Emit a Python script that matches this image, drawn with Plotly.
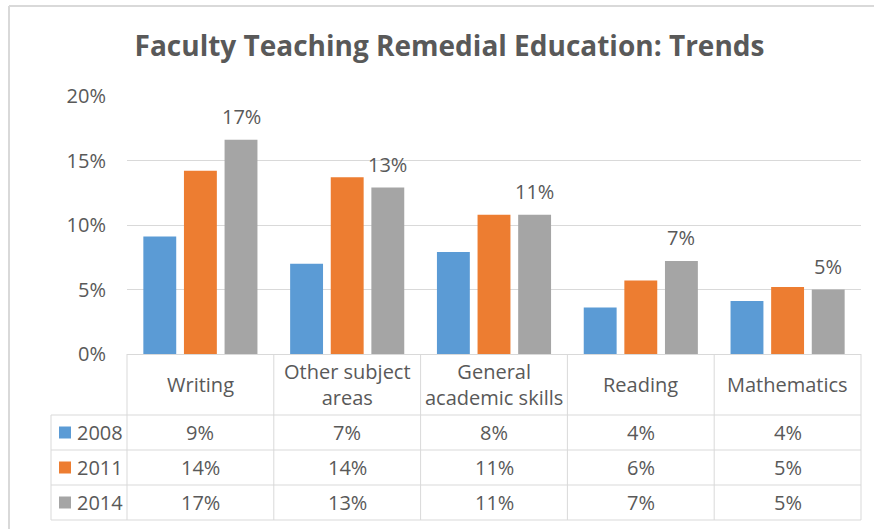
import plotly.graph_objects as go

categories = ["Writing", "Other subject areas", "General academic skills", "Reading", "Mathematics"]
category_labels = ["Writing", "Other subject<br>areas", "General<br>academic skills", "Reading", "Mathematics"]
years = ["2008", "2011", "2014"]
values_2008 = [9.1, 7.0, 7.9, 3.6, 4.1]
values_2011 = [14.2, 13.7, 10.8, 5.7, 5.2]
values_2014 = [16.6, 12.9, 10.8, 7.2, 5.0]
series = [values_2008, values_2011, values_2014]
colors = ["#5B9BD5", "#ED7D31", "#A5A5A5"]
y_ticks = [0, 5, 10, 15, 20]

W, H = 874, 529
L, R, T, B = 127, 861, 96, 354
TXT = "#595959"
GRID = "#d9d9d9"
FONT = "Open Sans"
FS = 20

def px(x):
    return (x - L) / (R - L)

def py(y):
    return (B - y) / (B - T)

fig = go.Figure()
for yr, vals, col in zip(years, series, colors):
    fig.add_trace(go.Bar(x=categories, y=vals, name=yr, marker=dict(color=col, line=dict(width=0)),
                         hoverinfo="x+y"))

shapes = []
annotations = []

# outer chart border (left and top)
shapes.append(dict(type="line", xref="paper", yref="paper", x0=px(9), x1=px(W + 5), y0=py(6), y1=py(6),
                   line=dict(color="#d9d9d9", width=2)))
shapes.append(dict(type="line", xref="paper", yref="paper", x0=px(9), x1=px(9), y0=py(6), y1=py(H + 5),
                   line=dict(color="#d9d9d9", width=2)))

# data table grid
col_w = (R - L) / len(categories)
row_lines = [415, 450, 485, 520]
for yl in row_lines:
    shapes.append(dict(type="line", xref="paper", yref="paper", x0=px(51), x1=px(R), y0=py(yl), y1=py(yl),
                       line=dict(color=GRID, width=1)))
for k in range(len(categories) + 1):
    xv = L + k * col_w
    shapes.append(dict(type="line", xref="paper", yref="paper", x0=px(xv), x1=px(xv), y0=py(B), y1=py(520),
                       line=dict(color=GRID, width=1)))
shapes.append(dict(type="line", xref="paper", yref="paper", x0=px(51), x1=px(51), y0=py(415), y1=py(520),
                   line=dict(color=GRID, width=1)))

# category labels in header row
for cat, lab in zip(categories, category_labels):
    annotations.append(dict(x=cat, xref="x", y=py(384.5), yref="paper", text=lab, showarrow=False,
                            xanchor="center", yanchor="middle", font=dict(size=FS, color=TXT, family=FONT)))

row_centers = [432.5, 467.5, 502.5]
for yr, vals, col, rc in zip(years, series, colors, row_centers):
    shapes.append(dict(type="rect", xref="paper", yref="paper", x0=px(59), x1=px(71), y0=py(rc - 6), y1=py(rc + 6),
                       fillcolor=col, line=dict(width=0)))
    annotations.append(dict(x=px(75), xref="paper", y=py(rc), yref="paper", text=yr, showarrow=False,
                            xanchor="left", yanchor="middle", font=dict(size=FS, color=TXT, family=FONT)))
    for cat, v in zip(categories, vals):
        annotations.append(dict(x=cat, xref="x", y=py(rc), yref="paper", text=f"{v:.0f}%", showarrow=False,
                                xanchor="center", yanchor="middle", font=dict(size=FS, color=TXT, family=FONT)))

# data labels on 2014 series
for cat, v in zip(categories, values_2014):
    annotations.append(dict(x=cat, xref="x", y=v, yref="y", text=f"{v:.0f}%", showarrow=False,
                            xanchor="center", yanchor="middle", xshift=40.6, yshift=23.5,
                            font=dict(size=FS, color=TXT, family=FONT)))

fig.update_layout(
    width=W, height=H,
    margin=dict(l=L, r=W - R, t=T, b=H - B, pad=0),
    paper_bgcolor="white", plot_bgcolor="white",
    barmode="group", bargap=0.17, bargroupgap=0.19,
    showlegend=False,
    font=dict(family=FONT, color=TXT, size=FS),
    title=dict(text="<b>Faculty Teaching Remedial Education: Trends</b>", xref="container", yref="container",
               x=449.5 / W, xanchor="center", y=1 - 46 / H, yanchor="middle",
               font=dict(size=28, color=TXT, family=FONT)),
    xaxis=dict(range=[-0.5, 4.5], showticklabels=False, showgrid=False, zeroline=False, showline=False,
               fixedrange=True),
    yaxis=dict(range=[0, 20], tickvals=y_ticks, ticktext=[f"{t}%" for t in y_ticks],
               showgrid=True, gridcolor=GRID, gridwidth=1, zeroline=True, zerolinecolor=GRID, zerolinewidth=1,
               showline=False, ticks="", ticklabelstandoff=20,
               tickfont=dict(size=FS, color=TXT, family=FONT), fixedrange=True),
    shapes=shapes,
    annotations=annotations,
)

fig.write_html("out.html", config={"displayModeBar": False},
               post_script="document.body.style.margin='0';document.body.style.overflow='hidden';")
